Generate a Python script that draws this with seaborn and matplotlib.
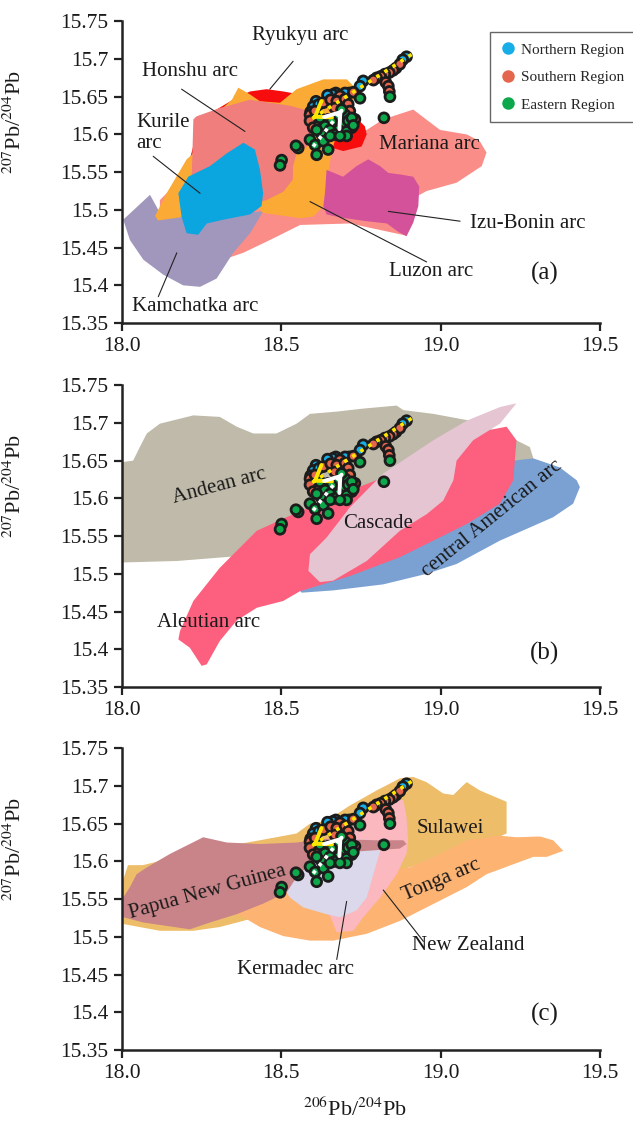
import numpy as np
import pandas as pd
import matplotlib.pyplot as plt
import seaborn as sns
from matplotlib.lines import Line2D

# Pb-isotope data of the samples (206Pb/204Pb, 207Pb/204Pb)
north_x = [18.893, 18.881, 18.860, 18.757, 18.747, 18.713, 18.700, 18.671, 18.661, 18.645, 18.609, 18.600, 18.592, 18.618]
north_y = [15.703, 15.699, 15.688, 15.671, 15.664, 15.655, 15.655, 15.655, 15.653, 15.652, 15.644, 15.637, 15.630, 15.640]

south_x = [18.872, 18.851, 18.839, 18.825, 18.812, 18.799, 18.789, 18.828, 18.836, 18.839, 18.726, 18.684, 18.632, 18.655,
           18.674, 18.700, 18.710, 18.590, 18.606, 18.590, 18.600, 18.621, 18.647, 18.668, 18.715, 18.731, 18.721]
south_y = [15.693, 15.685, 15.682, 15.680, 15.677, 15.675, 15.672, 15.669, 15.664, 15.657, 15.656, 15.651, 15.642, 15.646,
           15.644, 15.647, 15.640, 15.626, 15.631, 15.618, 15.609, 15.615, 15.620, 15.635, 15.631, 15.620, 15.609]

east_x = [18.841, 18.822, 18.747, 18.700, 18.679, 18.694, 18.710, 18.721, 18.658, 18.679, 18.705, 18.726, 18.637, 18.653,
          18.668, 18.627, 18.611, 18.590, 18.606, 18.632, 18.653, 18.647, 18.611, 18.553, 18.546, 18.501, 18.496, 18.705,
          18.684, 18.621, 18.689]
east_y = [15.650, 15.622, 15.648, 15.626, 15.622, 15.615, 15.618, 15.622, 15.617, 15.606, 15.604, 15.612, 15.611, 15.606,
          15.600, 15.600, 15.606, 15.593, 15.586, 15.591, 15.598, 15.580, 15.573, 15.582, 15.585, 15.566, 15.559, 15.598,
          15.598, 15.622, 15.633]

regions = ["Northern Region", "Southern Region", "Eastern Region"]
region_colors = ["#17AEE8", "#E4664E", "#0DA84B"]

# trend arrows (start, tip)
yellow_trend = [(18.909, 15.706), (18.597, 15.621)]
white_trend = [(18.600, 15.584), (18.692, 15.633)]

# ---- literature fields, panel (a) ----
mariana = [(18.119, 15.513), (18.245, 15.567), (18.559, 15.600), (18.768, 15.606), (18.820, 15.620), (18.914, 15.633),
           (18.998, 15.606), (19.082, 15.600), (19.123, 15.591), (19.144, 15.576), (19.129, 15.558), (19.050, 15.536),
           (18.956, 15.525), (18.904, 15.513), (18.891, 15.466), (18.715, 15.482), (18.559, 15.480), (18.464, 15.460),
           (18.380, 15.443), (18.317, 15.434), (18.245, 15.447), (18.119, 15.480)]
kamchatka = [(18.004, 15.487), (18.088, 15.520), (18.119, 15.496), (18.224, 15.491), (18.443, 15.498), (18.402, 15.469),
             (18.349, 15.443), (18.297, 15.409), (18.245, 15.398), (18.192, 15.400), (18.130, 15.414), (18.067, 15.434),
             (18.025, 15.460)]
ryukyu = [(18.213, 15.567), (18.245, 15.620), (18.360, 15.649), (18.402, 15.657), (18.454, 15.660), (18.506, 15.657),
          (18.559, 15.653), (18.653, 15.646), (18.715, 15.630), (18.762, 15.611), (18.768, 15.600), (18.752, 15.584),
          (18.694, 15.578), (18.662, 15.582), (18.559, 15.580), (18.245, 15.560)]
luzon = [(18.365, 15.662), (18.402, 15.653), (18.433, 15.644), (18.496, 15.642), (18.548, 15.660), (18.632, 15.673),
         (18.706, 15.673), (18.731, 15.662), (18.731, 15.650), (18.715, 15.629), (18.674, 15.602), (18.658, 15.576),
         (18.647, 15.549), (18.637, 15.522), (18.632, 15.505), (18.600, 15.491), (18.559, 15.489), (18.443, 15.496),
         (18.417, 15.507), (18.339, 15.513), (18.245, 15.498), (18.182, 15.490), (18.113, 15.486), (18.104, 15.492),
         (18.140, 15.522), (18.203, 15.567), (18.219, 15.573), (18.245, 15.593), (18.292, 15.626), (18.345, 15.646)]
honshu = [(18.224, 15.620), (18.234, 15.624), (18.307, 15.635), (18.402, 15.646), (18.464, 15.642), (18.527, 15.638),
          (18.590, 15.631), (18.596, 15.606), (18.580, 15.584), (18.548, 15.575), (18.537, 15.558), (18.536, 15.540),
          (18.506, 15.524), (18.454, 15.513), (18.402, 15.507), (18.307, 15.513), (18.219, 15.533), (18.219, 15.544)]
kurile = [(18.381, 15.589), (18.417, 15.580), (18.433, 15.553), (18.443, 15.522), (18.438, 15.505), (18.402, 15.494),
          (18.318, 15.487), (18.266, 15.482), (18.239, 15.467), (18.203, 15.469), (18.187, 15.491), (18.177, 15.522),
          (18.208, 15.544), (18.276, 15.558), (18.329, 15.575)]
izu_bonin = [(18.642, 15.553), (18.694, 15.544), (18.736, 15.558), (18.773, 15.567), (18.810, 15.558), (18.836, 15.549),
             (18.872, 15.547), (18.914, 15.544), (18.933, 15.531), (18.930, 15.505), (18.914, 15.483), (18.893, 15.465),
             (18.867, 15.471), (18.831, 15.482), (18.768, 15.485), (18.684, 15.490), (18.642, 15.494), (18.632, 15.505),
             (18.637, 15.522)]

# ---- panel (b) ----
andean = [(18.000, 15.648), (18.035, 15.650), (18.056, 15.668), (18.078, 15.686), (18.119, 15.699), (18.224, 15.710),
          (18.307, 15.708), (18.360, 15.695), (18.412, 15.686), (18.485, 15.686), (18.548, 15.699), (18.590, 15.712),
          (18.674, 15.715), (18.757, 15.719), (18.862, 15.723), (18.883, 15.717), (18.977, 15.712), (19.092, 15.703),
          (19.228, 15.679), (19.280, 15.668), (19.291, 15.653), (19.249, 15.624), (18.872, 15.557), (18.474, 15.531),
          (18.381, 15.524), (18.172, 15.517), (18.000, 15.515)]
central_american = [(18.475, 15.562), (18.559, 15.577), (18.715, 15.597), (18.872, 15.617), (19.029, 15.634),
                    (19.186, 15.648), (19.291, 15.653), (19.374, 15.641), (19.427, 15.624), (19.437, 15.615),
                    (19.416, 15.593), (19.353, 15.575), (19.186, 15.544), (19.050, 15.513), (18.956, 15.500),
                    (18.820, 15.486), (18.663, 15.478), (18.564, 15.475), (18.543, 15.484), (18.511, 15.517)]
aleutian = [(18.423, 15.557), (18.527, 15.577), (18.653, 15.600), (18.810, 15.626), (18.935, 15.648), (19.061, 15.669),
            (19.144, 15.690), (19.207, 15.695), (19.238, 15.677), (19.228, 15.624), (19.186, 15.593), (19.082, 15.566),
            (18.977, 15.544), (18.872, 15.522), (18.715, 15.497), (18.559, 15.477), (18.506, 15.464), (18.423, 15.455),
            (18.360, 15.438), (18.307, 15.411), (18.266, 15.380), (18.250, 15.378), (18.213, 15.402), (18.177, 15.413),
            (18.182, 15.424), (18.224, 15.464), (18.307, 15.508)]
cascade = [(19.238, 15.726), (19.186, 15.699), (19.102, 15.677), (19.050, 15.650), (19.040, 15.624), (19.008, 15.597),
           (18.956, 15.579), (18.872, 15.557), (18.768, 15.517), (18.663, 15.491), (18.621, 15.489), (18.585, 15.504),
           (18.590, 15.526), (18.642, 15.548), (18.715, 15.588), (18.820, 15.633), (18.977, 15.677), (19.082, 15.703),
           (19.186, 15.721)]

# ---- panel (c) ----
sulawei = [(18.003, 15.575), (18.019, 15.595), (18.066, 15.595), (18.245, 15.614), (18.433, 15.628), (18.548, 15.637),
           (18.590, 15.650), (18.642, 15.654), (18.715, 15.674), (18.799, 15.694), (18.872, 15.710), (18.914, 15.712),
           (18.956, 15.705), (19.008, 15.690), (19.040, 15.688), (19.071, 15.701), (19.082, 15.705), (19.123, 15.694),
           (19.207, 15.679), (19.207, 15.637), (19.123, 15.621), (18.872, 15.588), (18.559, 15.541), (18.307, 15.513),
           (18.224, 15.508), (18.119, 15.508), (18.004, 15.517)]
tonga = [(18.360, 15.530), (18.402, 15.555), (18.621, 15.581), (18.904, 15.592), (18.998, 15.610), (19.082, 15.628),
         (19.186, 15.634), (19.238, 15.632), (19.312, 15.633), (19.353, 15.628), (19.385, 15.614), (19.333, 15.606),
         (19.291, 15.606), (19.144, 15.583), (19.082, 15.566), (18.998, 15.548), (18.872, 15.521), (18.768, 15.504),
         (18.663, 15.495), (18.590, 15.495), (18.506, 15.501), (18.433, 15.513), (18.381, 15.526)]
new_zealand = [(18.715, 15.654), (18.768, 15.674), (18.799, 15.683), (18.851, 15.685), (18.883, 15.681), (18.893, 15.659),
               (18.898, 15.628), (18.893, 15.610), (18.862, 15.583), (18.810, 15.552), (18.757, 15.526), (18.726, 15.508),
               (18.674, 15.506), (18.653, 15.528), (18.621, 15.575), (18.653, 15.621)]
kermadec = [(18.590, 15.628), (18.694, 15.630), (18.799, 15.628), (18.810, 15.614), (18.789, 15.583), (18.768, 15.552),
            (18.736, 15.535), (18.684, 15.526), (18.642, 15.530), (18.569, 15.539), (18.527, 15.552), (18.506, 15.566),
            (18.527, 15.575), (18.559, 15.601)]
png = [(18.004, 15.552), (18.025, 15.566), (18.046, 15.583), (18.078, 15.592), (18.151, 15.610), (18.255, 15.632),
       (18.329, 15.625), (18.433, 15.623), (18.548, 15.625), (18.642, 15.630), (18.799, 15.628), (18.883, 15.628),
       (18.893, 15.623), (18.872, 15.617), (18.768, 15.614), (18.642, 15.610), (18.590, 15.597), (18.548, 15.579),
       (18.517, 15.559), (18.443, 15.544), (18.360, 15.530), (18.276, 15.519), (18.213, 15.510), (18.067, 15.519),
       (18.004, 15.526)]

fields_a = [(mariana, "#FB8D88"), (kamchatka, "#A196BB"), (ryukyu, "#F70D0D"), (luzon, "#FBAA35"),
            (honshu, "#EF7E7C"), (kurile, "#0BA5DF"), (izu_bonin, "#D4529A")]
fields_b = [(andean, "#BFBAA9"), (central_american, "#7BA1D3"), (aleutian, "#FD5F7E"), (cascade, "#E6C5D3")]
fields_c = [(sulawei, "#EDBD6A"), (tonga, "#FDB473"), (new_zealand, "#FBB8BE"), (kermadec, "#DAD8EA"), (png, "#C88488")]

# labels: (text, x, y, rotation)
labels_a = [("Ryukyu arc", 18.559, 15.731, 0), ("Honshu arc", 18.213, 15.684, 0),
            ("Kamchatka arc", 18.229, 15.372, 0), ("Mariana arc", 18.966, 15.587, 0),
            ("Izu-Bonin arc", 19.274, 15.482, 0), ("Luzon arc", 18.971, 15.418, 0)]
leaders_a = [[(18.537, 15.697), (18.464, 15.660)], [(18.187, 15.660), (18.386, 15.604)],
             [(18.098, 15.571), (18.245, 15.522)], [(18.114, 15.385), (18.172, 15.443)],
             [(18.836, 15.498), (19.061, 15.485)], [(18.590, 15.511), (18.956, 15.431)]]
labels_b = [("Andean arc", 18.304, 15.616, 15), ("Cascade", 18.803, 15.567, 0),
            ("Aleutian arc", 18.273, 15.436, 0), ("central American arc", 19.161, 15.573, 39)]
labels_c = [("Papua New Guinea", 18.270, 15.559, 15.5), ("Sulawei", 19.029, 15.643, 0),
            ("Tonga arc", 19.003, 15.575, 23), ("New Zealand", 19.086, 15.488, 0),
            ("Kermadec arc", 18.546, 15.457, 0)]
leaders_c = [[(18.946, 15.494), (18.820, 15.562)], [(18.674, 15.470), (18.705, 15.547)]]

df = pd.DataFrame({
    "x": north_x + south_x + east_x,
    "y": north_y + south_y + east_y,
    "region": [regions[0]] * len(north_x) + [regions[1]] * len(south_x) + [regions[2]] * len(east_x),
})

sns.set_style("ticks")
plt.rcParams["font.family"] = ["Liberation Serif", "DejaVu Serif"]
plt.rcParams["mathtext.fontset"] = "stix"

fig = plt.figure(figsize=(6.33, 11.26), dpi=100)
bottoms = [0.7131, 0.3899, 0.0675]
axes = [fig.add_axes([0.1927, b, 0.7551, 0.2680]) for b in bottoms]

txt_col = "#1a1a1a"
head = "->,head_length=1.0,head_width=0.7"
for ax, fields, labels, tag, tag_y in zip(axes, [fields_a, fields_b, fields_c], [labels_a, labels_b, labels_c],
                                          ["(a)", "(b)", "(c)"], [15.416, 15.394, 15.397]):
    for i, (poly, col) in enumerate(fields):
        px, py = zip(*poly)
        ax.fill(px, py, color=col, lw=0, zorder=1 + i * 0.1)

    sns.scatterplot(data=df, x="x", y="y", hue="region", hue_order=regions, palette=region_colors,
                    s=50, edgecolor="#1c1c1c", linewidth=2.0, legend=False, zorder=5, ax=ax)

    (x0, y0), (x1, y1) = yellow_trend
    ax.plot([x0, x1], [y0, y1], color="#FFE600", lw=2.6, ls=":", zorder=6)
    ax.annotate("", xy=(x1, y1), xytext=(x1 + (x0 - x1) * 0.02, y1 + (y0 - y1) * 0.02),
                arrowprops=dict(arrowstyle=head, color="#FFE600", lw=2.8, shrinkA=0, shrinkB=0), zorder=7)
    (x0, y0), (x1, y1) = white_trend
    ax.plot([x0, x1], [y0, y1], color="white", lw=2.6, ls=":", zorder=6)
    ax.annotate("", xy=(x1, y1), xytext=(x1 + (x0 - x1) * 0.03, y1 + (y0 - y1) * 0.03),
                arrowprops=dict(arrowstyle=head, color="white", lw=2.8, shrinkA=0, shrinkB=0), zorder=7)

    for t, x, y, r in labels:
        ax.text(x, y, t, fontsize=15, color=txt_col, ha="center", va="center", rotation=r,
                rotation_mode="anchor", zorder=8)
    ax.text(19.327, tag_y, tag, fontsize=18, color=txt_col, ha="center", va="center", zorder=8)

    ax.set_xlim(18.0, 19.5)
    ax.set_ylim(15.35, 15.75)
    ax.set_xticks([18.0, 18.5, 19.0, 19.5])
    ax.set_xticklabels(["18.0", "18.5", "19.0", "19.5"])
    yt = [15.35, 15.4, 15.45, 15.5, 15.55, 15.6, 15.65, 15.7, 15.75]
    ax.set_yticks(yt)
    ax.set_yticklabels([f"{v:g}" for v in yt])
    ax.tick_params(labelsize=15.5, width=1.6, length=6, color="#222222", labelcolor=txt_col, pad=4)
    for sp in ["left", "bottom"]:
        ax.spines[sp].set_linewidth(1.8)
        ax.spines[sp].set_color("#222222")
    sns.despine(ax=ax)
    ax.set_xlabel("")
    ax.set_ylabel("$^{207}$Pb/$^{204}$Pb", fontsize=16, color=txt_col)
    ax.yaxis.set_label_coords(-0.2, 0.665)

ax = axes[0]
ax.text(18.046, 15.602, "Kurile\narc", fontsize=15, color=txt_col, ha="left", va="center",
        multialignment="left", linespacing=1.1, zorder=8)
for seg in leaders_a:
    (x0, y0), (x1, y1) = seg
    ax.plot([x0, x1], [y0, y1], color="#222222", lw=0.8, zorder=8)
handles = [Line2D([], [], marker="o", ls="", markerfacecolor=c, markeredgecolor="none", markersize=9)
           for c in region_colors]
leg = ax.legend(handles, regions, loc="upper left", bbox_to_anchor=(0.77, 0.963), fontsize=11,
                frameon=True, fancybox=False, edgecolor="#666666", framealpha=1, labelspacing=0.9,
                handletextpad=0.3, handlelength=1.0, borderpad=0.7, borderaxespad=0)
leg.get_frame().set_linewidth(1.0)
leg.set_zorder(10)

for seg in leaders_c:
    (x0, y0), (x1, y1) = seg
    axes[2].plot([x0, x1], [y0, y1], color="#222222", lw=0.8, zorder=8)
axes[2].set_xlabel("$^{206}$Pb/$^{204}$Pb", fontsize=16, color=txt_col)
axes[2].xaxis.set_label_coords(0.487, -0.16)

fig.savefig("out.png", dpi=100)
